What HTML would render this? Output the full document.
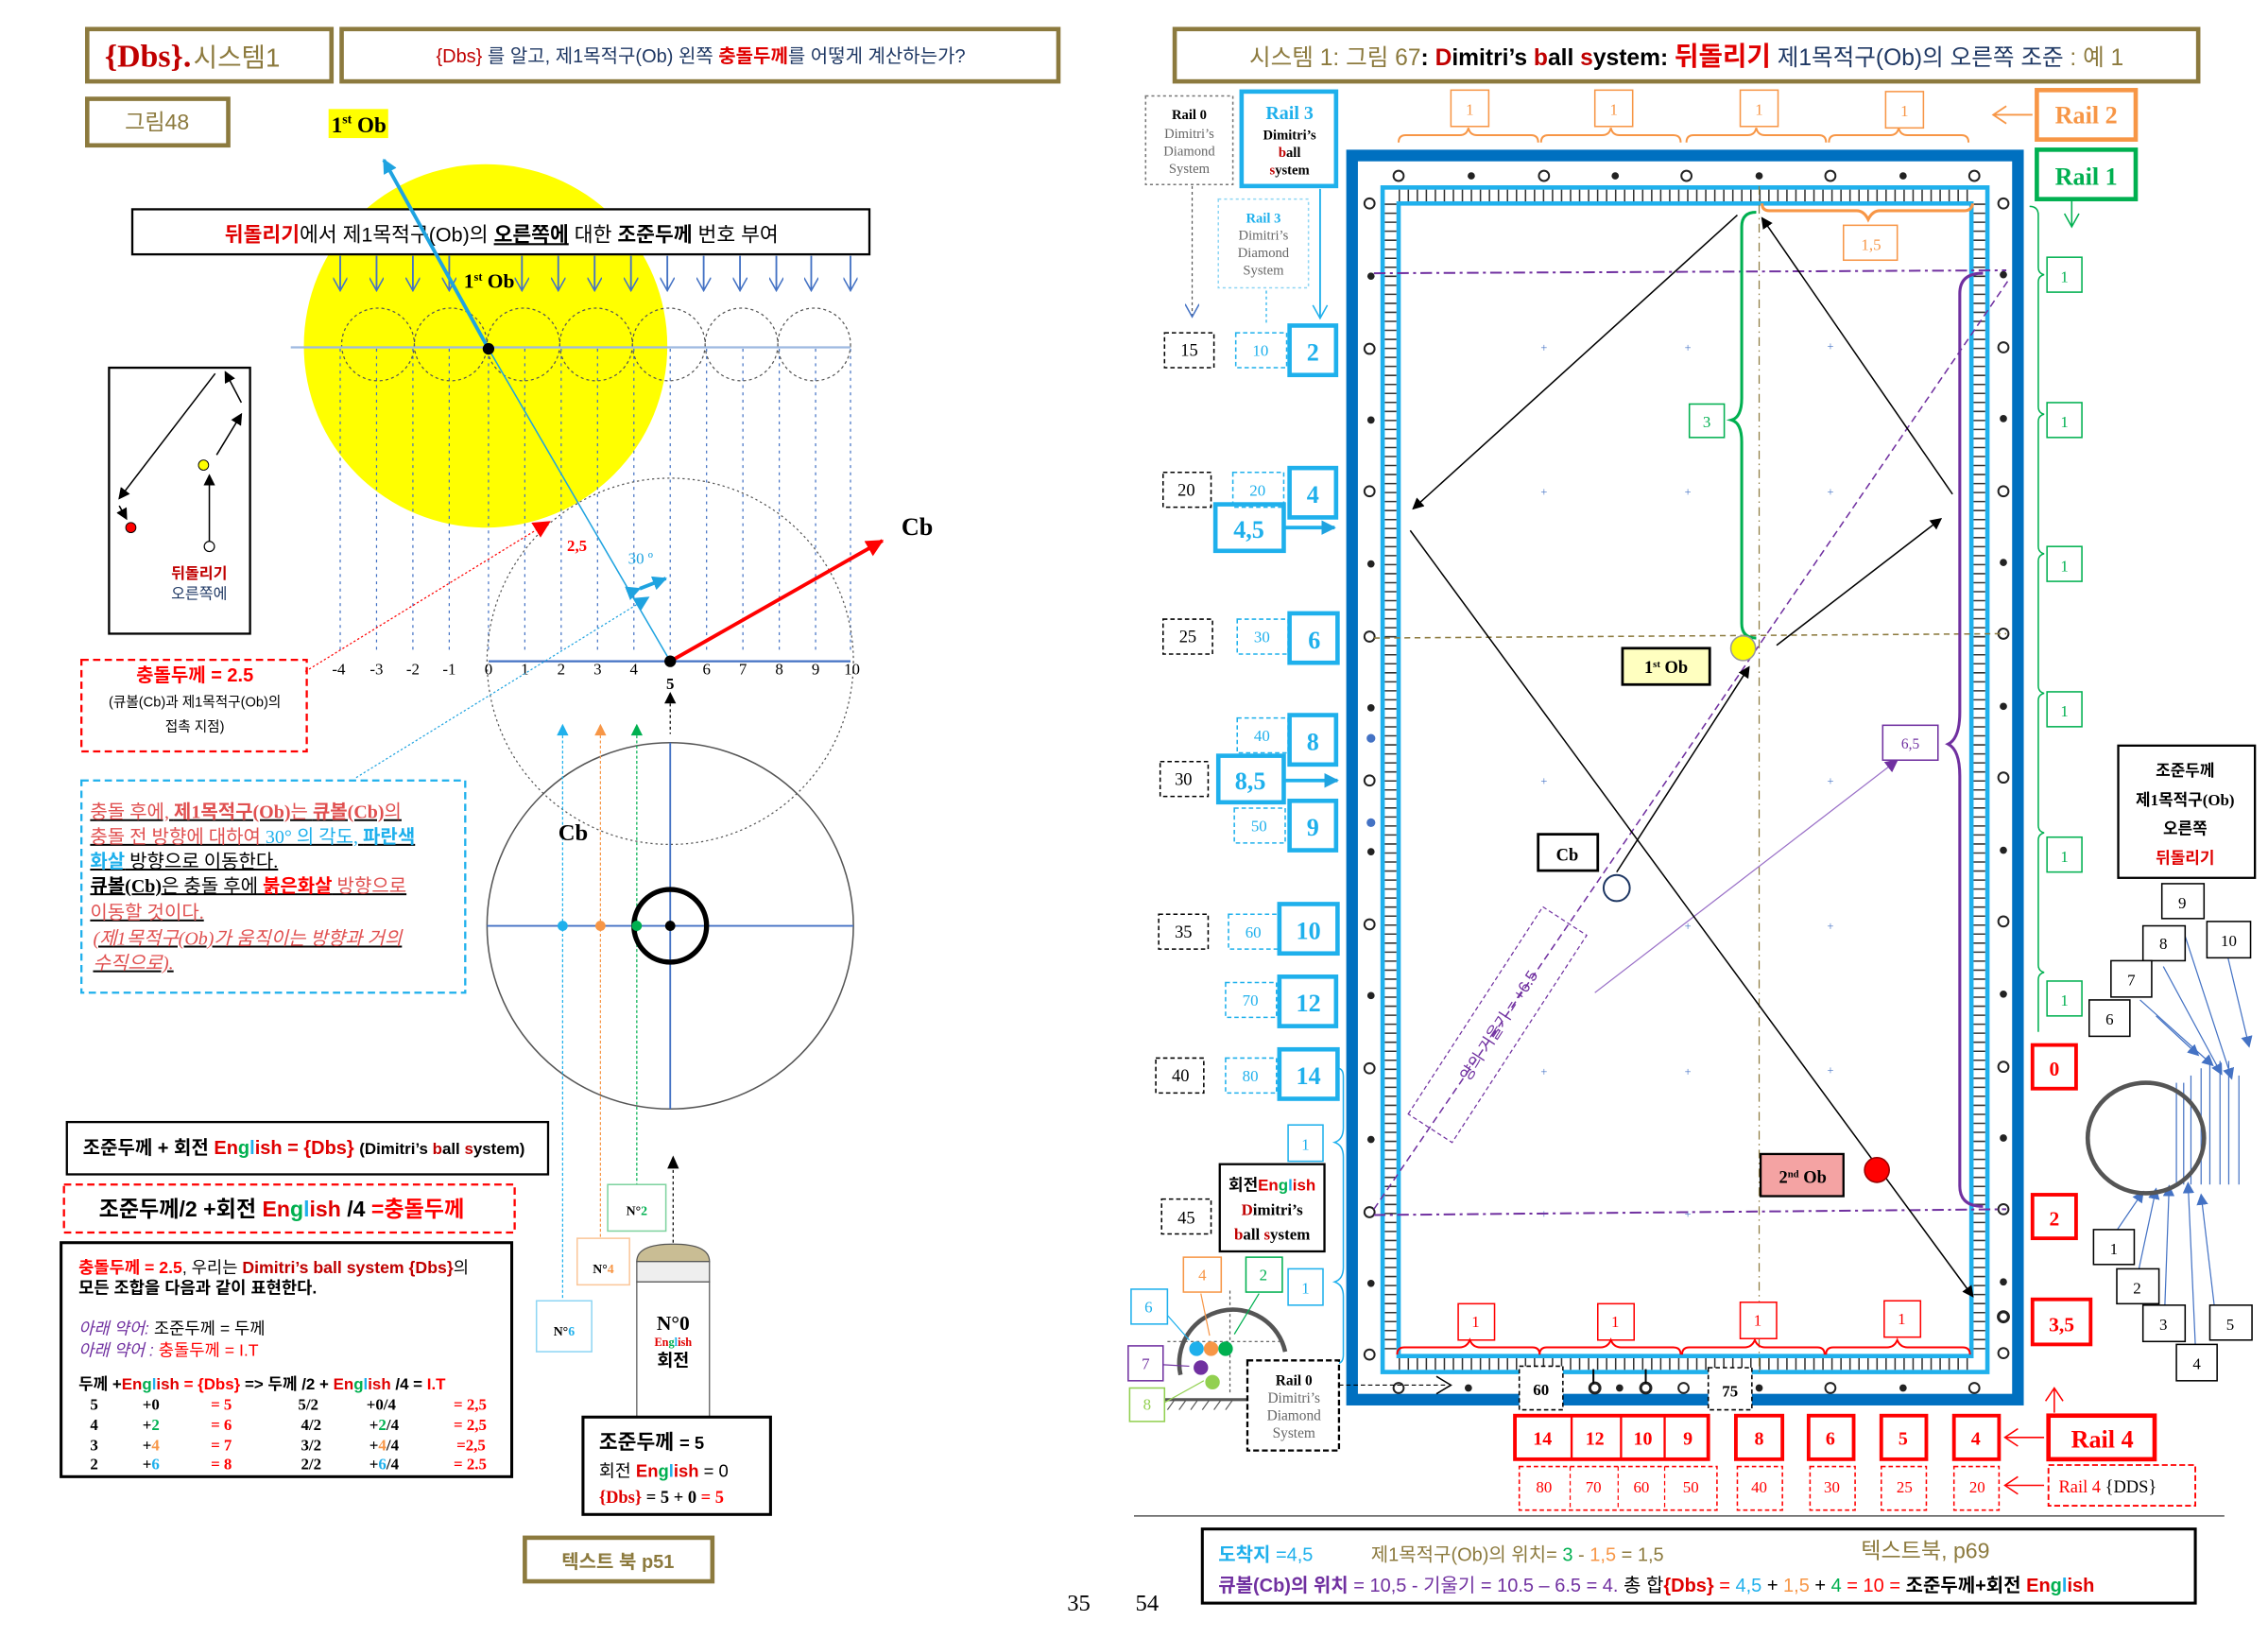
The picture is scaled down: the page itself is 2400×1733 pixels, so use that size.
<!DOCTYPE html>
<html><head><meta charset="utf-8"><style>
html,body{margin:0;padding:0;background:#fff}
svg{display:block}
text{font-family:"Liberation Serif","Noto Sans CJK KR",serif}
.k{font-family:"Liberation Sans","Noto Sans CJK KR",sans-serif}
</style></head><body>
<svg width="2400" height="1733" viewBox="0 0 1560 1127" preserveAspectRatio="none" xmlns="http://www.w3.org/2000/svg">
<defs>
<marker id="ab" markerWidth="8" markerHeight="8" refX="7" refY="4" orient="auto" markerUnits="userSpaceOnUse"><path d="M0,0 L8,4 L0,8z" fill="#000"/></marker>
<marker id="ac" markerWidth="10" markerHeight="10" refX="9" refY="5" orient="auto" markerUnits="userSpaceOnUse"><path d="M0,0 L10,5 L0,10z" fill="#1fa3e0"/></marker>
<marker id="ar" markerWidth="12" markerHeight="12" refX="11" refY="6" orient="auto" markerUnits="userSpaceOnUse"><path d="M0,0 L12,6 L0,12z" fill="#f00"/></marker>
<marker id="ap" markerWidth="9" markerHeight="9" refX="8" refY="4.5" orient="auto" markerUnits="userSpaceOnUse"><path d="M0,0 L9,4.5 L0,9z" fill="#7030a0"/></marker>
<marker id="abl" markerWidth="8" markerHeight="8" refX="7" refY="4" orient="auto" markerUnits="userSpaceOnUse"><path d="M0,0 L8,4 L0,8z" fill="#4472c4"/></marker>
<marker id="av" markerWidth="10" markerHeight="10" refX="9" refY="5" orient="auto" markerUnits="userSpaceOnUse"><path d="M0,0 L9,5 L0,10" fill="none" stroke="#4472c4"/></marker>
</defs>

<!-- ================= LEFT PAGE ================= -->
<rect x="60" y="20" width="168" height="36" fill="none" stroke="#8c7a3e" stroke-width="3"/>
<text x="72" y="46" font-size="22" fill="#c00000" font-weight="bold">{Dbs}.</text>
<text x="133" y="46" font-size="18" fill="#8c7a3e" class="k">시스템1</text>
<rect x="235" y="20" width="493" height="36" fill="none" stroke="#8c7a3e" stroke-width="3"/>
<text x="482" y="43" font-size="13" text-anchor="middle" class="k" fill="#1f3864"><tspan fill="#c00000">{Dbs}</tspan> 를 알고, 제1목적구(Ob) 왼쪽 <tspan fill="#e00000" font-weight="bold">충돌두께</tspan>를 어떻게 계산하는가?</text>
<rect x="60" y="68" width="97" height="32" fill="none" stroke="#8c7a3e" stroke-width="3"/>
<text x="108" y="89" font-size="15" text-anchor="middle" fill="#8c7a3e" class="k">그림48</text>

<circle cx="334" cy="238" r="125" fill="#ffff00"/>
<rect x="226" y="75" width="41" height="20" fill="#ffff00"/>
<text x="228" y="91" font-size="15" font-weight="bold">1<tspan font-size="9" dy="-6">st</tspan><tspan dy="6"> Ob</tspan></text>

<!-- vertical dotted lines -->
<g stroke="#4472c4" stroke-width="0.8" stroke-dasharray="2,3">
<line x1="234" y1="240" x2="234" y2="450"/><line x1="259" y1="240" x2="259" y2="450"/><line x1="284" y1="240" x2="284" y2="450"/><line x1="309" y1="240" x2="309" y2="450"/><line x1="336" y1="240" x2="336" y2="450"/><line x1="361" y1="240" x2="361" y2="450"/><line x1="386" y1="240" x2="386" y2="450"/><line x1="411" y1="240" x2="411" y2="450"/><line x1="436" y1="240" x2="436" y2="450"/><line x1="461" y1="240" x2="461" y2="450"/><line x1="486" y1="240" x2="486" y2="450"/><line x1="511" y1="240" x2="511" y2="450"/><line x1="536" y1="240" x2="536" y2="450"/><line x1="561" y1="240" x2="561" y2="450"/><line x1="585" y1="240" x2="585" y2="450"/>
</g>
<!-- dotted circles row -->
<g fill="none" stroke="#555" stroke-width="0.8" stroke-dasharray="2,2">
<circle cx="260" cy="237" r="25"/><circle cx="310" cy="237" r="25"/><circle cx="360" cy="237" r="25"/><circle cx="410" cy="237" r="25"/><circle cx="460" cy="237" r="25"/><circle cx="510" cy="237" r="25"/><circle cx="560" cy="237" r="25"/>
</g>
<line x1="200" y1="239" x2="585" y2="239" stroke="#9db9e0" stroke-width="1.5"/>
<!-- banner -->
<rect x="91" y="144" width="507" height="31" fill="#fff" stroke="#000" stroke-width="1.5"/>
<text x="345" y="166" font-size="14" text-anchor="middle" class="k"><tspan fill="#e00000" font-weight="bold">뒤돌리기</tspan>에서 제1목적구(Ob)의 <tspan font-weight="bold" text-decoration="underline">오른쪽에</tspan> 대한 <tspan font-weight="bold">조준두께</tspan> 번호 부여</text>
<!-- down arrows -->
<g stroke="#4472c4" stroke-width="1.2" marker-end="url(#av)">
<line x1="234" y1="176" x2="234" y2="200"/><line x1="259" y1="176" x2="259" y2="200"/><line x1="284" y1="176" x2="284" y2="200"/><line x1="309" y1="176" x2="309" y2="200"/><line x1="359" y1="176" x2="359" y2="200"/><line x1="384" y1="176" x2="384" y2="200"/><line x1="409" y1="176" x2="409" y2="200"/><line x1="434" y1="176" x2="434" y2="200"/><line x1="459" y1="176" x2="459" y2="200"/><line x1="484" y1="176" x2="484" y2="200"/><line x1="509" y1="176" x2="509" y2="200"/><line x1="534" y1="176" x2="534" y2="200"/><line x1="558" y1="176" x2="558" y2="200"/><line x1="585" y1="176" x2="585" y2="200"/>
</g>
<text x="319" y="198" font-size="14" font-weight="bold">1<tspan font-size="8" dy="-5">st</tspan><tspan dy="5"> Ob</tspan></text>
<line x1="336" y1="240" x2="264" y2="110" stroke="#1fa3e0" stroke-width="2.5" marker-end="url(#ac)"/>
<line x1="336" y1="240" x2="461" y2="455" stroke="#1fa3e0" stroke-width="1"/>
<circle cx="336" cy="240" r="4" fill="#000"/>

<!-- dotted big circle -->
<circle cx="461" cy="455" r="126" fill="none" stroke="#555" stroke-width="0.8" stroke-dasharray="1.5,2"/>
<line x1="336" y1="455" x2="585" y2="455" stroke="#4472c4" stroke-width="1.5"/>
<g font-size="11" text-anchor="middle">
<text x="233" y="464">-4</text><text x="259" y="464">-3</text><text x="284" y="464">-2</text><text x="309" y="464">-1</text><text x="336" y="464">0</text><text x="361" y="464">1</text><text x="386" y="464">2</text><text x="411" y="464">3</text><text x="436" y="464">4</text><text x="486" y="464">6</text><text x="511" y="464">7</text><text x="536" y="464">8</text><text x="561" y="464">9</text><text x="586" y="464">10</text>
<text x="461" y="474" font-weight="bold">5</text></g>
<line x1="461" y1="455" x2="607" y2="372" stroke="#f00" stroke-width="2.5" marker-end="url(#ar)"/>
<circle cx="461" cy="455" r="4" fill="#000"/>
<text x="620" y="368" font-size="17" font-weight="bold">Cb</text>
<text x="390" y="379" font-size="11" fill="#f00" font-weight="bold">2,5</text>
<text x="432" y="388" font-size="11" fill="#1fa3e0">30 º</text>
<line x1="440" y1="405" x2="458" y2="398" stroke="#1fa3e0" stroke-width="2.5" marker-end="url(#ac)" marker-start="url(#ac)"/>
<line x1="210" y1="462" x2="378" y2="359" stroke="#f00" stroke-width="0.8" stroke-dasharray="1.5,1.5" marker-end="url(#ar)"/>
<line x1="245" y1="535" x2="446" y2="411" stroke="#1fa3e0" stroke-width="0.8" stroke-dasharray="1.5,1.5" marker-end="url(#ac)"/>

<!-- inset -->
<rect x="75" y="253" width="97" height="183" fill="none" stroke="#000" stroke-width="1.5"/>
<line x1="148" y1="257" x2="82" y2="343" stroke="#000" stroke-width="1" marker-end="url(#ab)"/>
<line x1="82" y1="348" x2="87" y2="357" stroke="#000" stroke-width="1" marker-end="url(#ab)"/>
<line x1="166" y1="277" x2="155" y2="256" stroke="#000" stroke-width="1" marker-end="url(#ab)"/>
<line x1="149" y1="313" x2="166" y2="285" stroke="#000" stroke-width="1" marker-end="url(#ab)"/>
<line x1="144" y1="374" x2="144" y2="327" stroke="#000" stroke-width="1" marker-end="url(#ab)"/>
<circle cx="90" cy="363" r="3.5" fill="#f00" stroke="#000" stroke-width="0.6"/>
<circle cx="140" cy="320" r="3.5" fill="#ff0" stroke="#000" stroke-width="0.6"/>
<circle cx="144" cy="376" r="3.5" fill="#fff" stroke="#000" stroke-width="0.8"/>
<text x="137" y="398" font-size="10.5" text-anchor="middle" fill="#c00000" class="k" font-weight="bold">뒤돌리기</text>
<text x="137" y="412" font-size="10.5" text-anchor="middle" fill="#1f3864" class="k">오른쪽에</text>

<!-- red dashed box -->
<rect x="56" y="454" width="155" height="63" fill="none" stroke="#f00" stroke-width="1.5" stroke-dasharray="5,3"/>
<text x="134" y="469" font-size="13" text-anchor="middle" fill="#f00" font-weight="bold" class="k">충돌두께 = 2.5</text>
<text x="134" y="486" font-size="9.5" text-anchor="middle" class="k">(큐볼(Cb)과 제1목적구(Ob)의</text>
<text x="134" y="503" font-size="9.5" text-anchor="middle" class="k">접촉 지점)</text>

<!-- cyan dashed box -->
<rect x="56" y="537" width="264" height="146" fill="none" stroke="#1fb0ec" stroke-width="1.5" stroke-dasharray="5,3"/>
<g font-size="13" class="k" text-decoration="underline">
<text x="62" y="563" fill="#e05050">충돌 후에, <tspan font-weight="bold">제1목적구(Ob)</tspan>는 <tspan font-weight="bold">큐볼(Cb)</tspan>의</text>
<text x="62" y="580" fill="#e05050">충돌 전 방향에 대하여 <tspan fill="#1fb0ec">30° 의 각도, <tspan font-weight="bold">파란색</tspan></tspan></text>
<text x="62" y="597" fill="#000"><tspan fill="#1fb0ec" font-weight="bold">화살</tspan> 방향으로 이동한다.</text>
<text x="62" y="614" fill="#e05050"><tspan fill="#000" font-weight="bold">큐볼(Cb)</tspan><tspan fill="#000">은 충돌 후에</tspan> <tspan fill="#f00" font-weight="bold">붉은화살</tspan> 방향으로</text>
<text x="62" y="632" fill="#e05050">이동할 것이다.</text>
<text x="64" y="650" fill="#e05050" font-style="italic">(제1목적구(Ob)가 움직이는 방향과  거의</text>
<text x="64" y="667" fill="#e05050" font-style="italic">수직으로).</text>
</g>

<!-- lower circle -->
<path d="M387,498 l-4,8 h8z" fill="#1fb0ec"/><path d="M413,498 l-4,8 h8z" fill="#f79646"/><path d="M438,498 l-4,8 h8z" fill="#00b050"/>
<path d="M461,476 l-4,8 h8z" fill="#000"/><line x1="461" y1="484" x2="461" y2="505" stroke="#000" stroke-width="0.8" stroke-dasharray="2,2"/>
<circle cx="461" cy="637" r="126" fill="none" stroke="#555" stroke-width="1"/>
<line x1="335" y1="637" x2="587" y2="637" stroke="#4472c4" stroke-width="1.2"/>
<line x1="461" y1="511" x2="461" y2="763" stroke="#4472c4" stroke-width="1.2"/>
<line x1="387" y1="506" x2="387" y2="928" stroke="#1fb0ec" stroke-width="0.8" stroke-dasharray="2,1.5"/>
<line x1="413" y1="506" x2="413" y2="855" stroke="#f79646" stroke-width="0.8" stroke-dasharray="2,1.5"/>
<line x1="438" y1="506" x2="438" y2="815" stroke="#00b050" stroke-width="0.8" stroke-dasharray="2,1.5"/>
<circle cx="461" cy="637" r="25" fill="none" stroke="#000" stroke-width="3.5"/>
<circle cx="461" cy="637" r="3.5" fill="#000"/>
<circle cx="387" cy="637" r="3.5" fill="#1fb0ec"/><circle cx="413" cy="637" r="3.5" fill="#f79646"/><circle cx="438" cy="637" r="3.5" fill="#00b050"/>
<text x="384" y="578" font-size="16" font-weight="bold">Cb</text>

<!-- formula boxes -->
<rect x="46" y="772" width="331" height="36" fill="none" stroke="#000" stroke-width="1.5"/>
<text x="57" y="794" font-size="13" class="k" font-weight="bold">조준두께 + 회전 <tspan fill="#e00000">En</tspan><tspan fill="#00b050">g</tspan><tspan fill="#1fb0ec">l</tspan><tspan fill="#e00000">ish</tspan> <tspan fill="#e00000">= {Dbs}</tspan> <tspan font-size="11">(Dimitri’s <tspan fill="#c00000">b</tspan>all <tspan fill="#c00000">s</tspan>ystem)</tspan></text>
<rect x="44" y="815" width="310" height="33" fill="none" stroke="#f00" stroke-width="1.5" stroke-dasharray="5,3"/>
<text x="68" y="837" font-size="15" class="k" font-weight="bold">조준두께/2 +회전 <tspan fill="#e00000">En</tspan><tspan fill="#00b050">g</tspan><tspan fill="#1fb0ec">l</tspan><tspan fill="#e00000">ish</tspan> /4 <tspan fill="#f00">=충돌두께</tspan></text>
<rect x="42" y="855" width="310" height="161" fill="none" stroke="#000" stroke-width="2"/>
<text x="54" y="876" font-size="11.5" class="k"><tspan fill="#f00" font-weight="bold">충돌두께 = 2.5</tspan>, 우리는 <tspan fill="#c00000" font-weight="bold">Dimitri’s ball system {Dbs}</tspan>의</text>
<text x="54" y="890" font-size="11.5" class="k" font-weight="bold">모든 조합을 다음과 같이 표현한다.</text>
<text x="54" y="918" font-size="11.5" class="k"><tspan fill="#7030a0" font-style="italic">아래 약어:</tspan> 조준두께 = 두께</text>
<text x="54" y="933" font-size="11.5" class="k"><tspan fill="#7030a0" font-style="italic">아래 약어 :</tspan> <tspan fill="#f00">충돌두께 = I.T</tspan></text>
<g font-size="11" font-weight="bold">
<text x="54" y="956" class="k">두께  +<tspan fill="#e00000">En</tspan><tspan fill="#00b050">g</tspan><tspan fill="#1fb0ec">l</tspan><tspan fill="#e00000">ish</tspan>  <tspan fill="#f00">= {Dbs}</tspan>  =&gt;  두께 /2 + <tspan fill="#e00000">En</tspan><tspan fill="#00b050">g</tspan><tspan fill="#1fb0ec">l</tspan><tspan fill="#e00000">ish</tspan> /4 = <tspan fill="#f00">I.T</tspan></text>
<text x="62" y="970">5</text><text x="98" y="970">+0</text><text x="145" y="970" fill="#f00">=  5</text><text x="205" y="970">5/2</text><text x="252" y="970">+0/4</text><text x="312" y="970" fill="#f00">= 2,5</text>
<text x="62" y="984">4</text><text x="98" y="984">+<tspan fill="#00b050">2</tspan></text><text x="145" y="984" fill="#f00">=  6</text><text x="207" y="984">4/2</text><text x="254" y="984">+<tspan fill="#00b050">2</tspan>/4</text><text x="312" y="984" fill="#f00">= 2,5</text>
<text x="62" y="998">3</text><text x="98" y="998">+<tspan fill="#f79646">4</tspan></text><text x="145" y="998" fill="#f00">=  7</text><text x="207" y="998">3/2</text><text x="254" y="998">+<tspan fill="#f79646">4</tspan>/4</text><text x="314" y="998" fill="#f00">=2,5</text>
<text x="62" y="1011">2</text><text x="98" y="1011">+<tspan fill="#1fb0ec">6</tspan></text><text x="145" y="1011" fill="#f00">=  8</text><text x="207" y="1011">2/2</text><text x="254" y="1011">+<tspan fill="#1fb0ec">6</tspan>/4</text><text x="312" y="1011" fill="#f00">= 2.5</text>
</g>

<!-- N boxes and cue -->
<rect x="418" y="815" width="40" height="32" fill="#fff" stroke="#7fd39f" stroke-width="1"/>
<text x="438" y="836" font-size="9" text-anchor="middle" font-weight="bold">N°<tspan fill="#00b050">2</tspan></text>
<rect x="397" y="852" width="36" height="32" fill="#fff" stroke="#fbc79a" stroke-width="1"/>
<text x="415" y="876" font-size="9" text-anchor="middle" font-weight="bold">N°<tspan fill="#f79646">4</tspan></text>
<rect x="369" y="895" width="38" height="35" fill="#fff" stroke="#8fd6f4" stroke-width="1"/>
<text x="388" y="919" font-size="9" text-anchor="middle" font-weight="bold">N°<tspan fill="#1fb0ec">6</tspan></text>
<line x1="463" y1="805" x2="463" y2="855" stroke="#000" stroke-width="0.8" stroke-dasharray="2,2"/>
<path d="M463,795 l-4,9 h8z" fill="#000"/>
<path d="M438,868 Q438,856 463,856 Q488,856 488,868z" fill="#c9bd94" stroke="#555" stroke-width="0.8"/>
<rect x="438" y="868" width="50" height="14" fill="#eee" stroke="#555" stroke-width="0.8"/>
<rect x="438" y="882" width="50" height="130" fill="#fff" stroke="#555" stroke-width="0.8"/>
<text x="463" y="915" font-size="14" text-anchor="middle" font-weight="bold">N°0</text>
<text x="463" y="926" font-size="8" text-anchor="middle" font-weight="bold"><tspan fill="#e00000">En</tspan><tspan fill="#00b050">g</tspan><tspan fill="#1fb0ec">l</tspan><tspan fill="#e00000">ish</tspan></text>
<text x="463" y="940" font-size="12" text-anchor="middle" class="k" font-weight="bold">회전</text>
<rect x="401" y="975" width="129" height="67" fill="#fff" stroke="#000" stroke-width="2"/>
<text x="412" y="997" font-size="14" class="k" font-weight="bold">조준두께  <tspan font-size="12">= 5</tspan></text>
<text x="412" y="1016" font-size="12" class="k">회전 <tspan fill="#e00000" font-weight="bold">En</tspan><tspan fill="#00b050" font-weight="bold">g</tspan><tspan fill="#1fb0ec" font-weight="bold">l</tspan><tspan fill="#e00000" font-weight="bold">ish</tspan> = 0</text>
<text x="412" y="1034" font-size="12" font-weight="bold"><tspan fill="#e00000">{Dbs}</tspan> = 5 + 0 <tspan fill="#f00">= 5</tspan></text>
<rect x="361" y="1058" width="129" height="30" fill="none" stroke="#8c7a3e" stroke-width="3"/>
<text x="425" y="1079" font-size="13" text-anchor="middle" fill="#8c7a3e" class="k" font-weight="bold">텍스트 북 p51</text>
<text x="734" y="1108" font-size="16">35</text>
<text x="781" y="1108" font-size="16">54</text>

<!-- ================= RIGHT PAGE ================= -->
<rect x="808" y="20" width="704" height="36" fill="none" stroke="#8c7a3e" stroke-width="3"/>
<text x="1160" y="45" font-size="16" text-anchor="middle" class="k" fill="#8c7a3e">시스템 1: 그림 67<tspan fill="#000" font-weight="bold">: </tspan><tspan fill="#c00000" font-weight="bold">D</tspan><tspan fill="#000" font-weight="bold">imitri’s </tspan><tspan fill="#c00000" font-weight="bold">b</tspan><tspan fill="#000" font-weight="bold">all </tspan><tspan fill="#c00000" font-weight="bold">s</tspan><tspan fill="#000" font-weight="bold">ystem: </tspan><tspan fill="#e00000" font-weight="bold" font-size="18">뒤돌리기</tspan> <tspan fill="#1f3864"> 제1목적구(Ob)의 오른쪽 조준</tspan> : 예 1</text>

<rect x="788" y="66" width="60" height="61" fill="none" stroke="#777" stroke-width="1" stroke-dasharray="2,2"/>
<g font-size="9.5" text-anchor="middle"><text x="818" y="82" font-weight="bold">Rail 0</text><text x="818" y="95" fill="#666">Dimitri’s</text><text x="818" y="107" fill="#666">Diamond</text><text x="818" y="119" fill="#666">System</text></g>
<rect x="854" y="63" width="65" height="65" fill="none" stroke="#1fb0ec" stroke-width="3"/>
<g text-anchor="middle"><text x="887" y="82" font-size="13" fill="#1fb0ec" font-weight="bold">Rail 3</text><text x="887" y="96" font-size="9.5" font-weight="bold">Dimitri’s</text><text x="887" y="108" font-size="9.5" font-weight="bold" fill="#c00000">b<tspan fill="#000">all</tspan></text><text x="887" y="120" font-size="9.5" font-weight="bold" fill="#c00000">s<tspan fill="#000">ystem</tspan></text></g>
<rect x="838" y="137" width="62" height="61" fill="none" stroke="#8fd6f4" stroke-width="1" stroke-dasharray="2,2"/>
<g font-size="9.5" text-anchor="middle"><text x="869" y="153" fill="#1fb0ec" font-weight="bold">Rail 3</text><text x="869" y="165" fill="#666">Dimitri’s</text><text x="869" y="177" fill="#666">Diamond</text><text x="869" y="189" fill="#666">System</text></g>
<line x1="820" y1="128" x2="820" y2="218" stroke="#555" stroke-width="0.8" stroke-dasharray="2,2" marker-end="url(#av)"/>
<line x1="871" y1="200" x2="871" y2="222" stroke="#1fb0ec" stroke-width="0.8" stroke-dasharray="2,2"/>
<line x1="908" y1="130" x2="908" y2="218" stroke="#1fb0ec" stroke-width="1.2"/>
<path d="M903,210 L908,219 L913,210" fill="none" stroke="#1fb0ec"/>

<!-- left number columns -->
<g font-size="12" text-anchor="middle">
<g fill="none" stroke="#000" stroke-width="1" stroke-dasharray="3,2">
<rect x="801" y="229" width="34" height="24"/><rect x="800" y="325" width="33" height="24"/><rect x="800" y="426" width="34" height="24"/><rect x="798" y="524" width="33" height="24"/><rect x="797" y="629" width="34" height="24"/><rect x="795" y="728" width="33" height="24"/><rect x="799" y="825" width="34" height="24"/><rect x="1022" y="855" width="33" height="23"/>
</g>
<text x="818" y="245">15</text><text x="816" y="341">20</text><text x="817" y="442">25</text><text x="814" y="540">30</text><text x="814" y="645">35</text><text x="812" y="744">40</text><text x="816" y="842">45</text><text x="1039" y="871">40</text>
<g fill="none" stroke="#1fb0ec" stroke-width="1" stroke-dasharray="3,2">
<rect x="850" y="229" width="35" height="24"/><rect x="848" y="325" width="35" height="24"/><rect x="851" y="426" width="35" height="24"/><rect x="851" y="494" width="35" height="24"/><rect x="849" y="556" width="35" height="24"/><rect x="845" y="629" width="35" height="24"/><rect x="843" y="676" width="35" height="24"/><rect x="843" y="728" width="35" height="24"/>
</g>
<g fill="#1fb0ec" font-size="11"><text x="867" y="245">10</text><text x="865" y="341">20</text><text x="868" y="442">30</text><text x="868" y="510">40</text><text x="866" y="572">50</text><text x="862" y="645">60</text><text x="860" y="692">70</text><text x="860" y="744">80</text></g>
<g fill="none" stroke="#1fb0ec" stroke-width="3">
<rect x="887" y="224" width="32" height="34"/><rect x="887" y="322" width="32" height="34"/><rect x="887" y="422" width="33" height="34"/><rect x="887" y="492" width="32" height="34"/><rect x="887" y="551" width="32" height="34"/><rect x="880" y="622" width="40" height="34"/><rect x="880" y="672" width="39" height="34"/><rect x="880" y="722" width="40" height="34"/>
<rect x="836" y="347" width="47" height="32"/><rect x="838" y="520" width="45" height="32"/>
</g>
<g fill="#1fb0ec" font-size="17" font-weight="bold"><text x="903" y="248">2</text><text x="903" y="346">4</text><text x="904" y="446">6</text><text x="903" y="516">8</text><text x="903" y="575">9</text><text x="900" y="646">10</text><text x="900" y="696">12</text><text x="900" y="746">14</text><text x="859" y="370">4,5</text><text x="860" y="543">8,5</text></g>
</g>
<line x1="884" y1="363" x2="918" y2="363" stroke="#1fb0ec" stroke-width="2.5" marker-end="url(#ac)"/>
<line x1="884" y1="537" x2="920" y2="537" stroke="#1fb0ec" stroke-width="2.5" marker-end="url(#ac)"/>

<!-- top orange -->
<g fill="#fff" stroke="#f79646" stroke-width="1"><rect x="998" y="62" width="26" height="25"/><rect x="1097" y="62" width="26" height="25"/><rect x="1197" y="62" width="26" height="25"/><rect x="1297" y="63" width="26" height="25"/></g>
<g fill="#f79646" font-size="11" text-anchor="middle"><text x="1011" y="79">1</text><text x="1110" y="79">1</text><text x="1210" y="79">1</text><text x="1310" y="80">1</text></g>
<g fill="none" stroke="#f79646" stroke-width="1.3">
<path d="M962,98 q0,-5 5,-5 h37 q5,0 6,-5 q1,5 6,5 h37 q5,0 5,5"/>
<path d="M1060,98 q0,-5 5,-5 h37 q5,0 6,-5 q1,5 6,5 h37 q5,0 5,5"/>
<path d="M1160,98 q0,-5 5,-5 h37 q5,0 6,-5 q1,5 6,5 h37 q5,0 5,5"/>
<path d="M1258,98 q0,-5 5,-5 h37 q5,0 6,-5 q1,5 6,5 h37 q5,0 5,5"/>
</g>
<rect x="1401" y="62" width="68" height="34" fill="none" stroke="#f79646" stroke-width="3"/>
<text x="1435" y="85" font-size="17" text-anchor="middle" fill="#f79646" font-weight="bold">Rail 2</text>
<line x1="1398" y1="79" x2="1372" y2="79" stroke="#f79646" stroke-width="1.2"/><path d="M1380,73 L1371,79 L1380,85" fill="none" stroke="#f79646" stroke-width="1.2"/>
<rect x="1401" y="103" width="68" height="34" fill="none" stroke="#00b050" stroke-width="3"/>
<text x="1435" y="127" font-size="17" text-anchor="middle" fill="#00b050" font-weight="bold">Rail 1</text>
<line x1="1425" y1="138" x2="1425" y2="155" stroke="#00b050" stroke-width="1"/><path d="M1420,147 L1425,156 L1430,147" fill="none" stroke="#00b050"/>

<!-- TABLE -->
<rect x="930" y="107" width="458" height="856" fill="#fff" stroke="#0070c0" stroke-width="8"/>
<rect x="951" y="129" width="416" height="815" fill="none" stroke="#1fb0ec" stroke-width="3"/>
<rect x="962" y="140" width="394" height="793" fill="none" stroke="#1fb0ec" stroke-width="3"/>
<g stroke="#333" stroke-width="8" stroke-dasharray="1,5.2">
<line x1="962" y1="134.5" x2="1356" y2="134.5"/><line x1="962" y1="938.5" x2="1356" y2="938.5"/>
</g>
<g stroke="#333" stroke-width="8" stroke-dasharray="1,5.2">
<line x1="956.5" y1="140" x2="956.5" y2="933"/><line x1="1361.5" y1="140" x2="1361.5" y2="933"/>
</g>
<!-- diamonds top/bottom -->
<g fill="#fff" stroke="#222" stroke-width="1.3">
<circle cx="962" cy="121" r="3.5"/><circle cx="1062" cy="121" r="3.5"/><circle cx="1160" cy="121" r="3.5"/><circle cx="1259" cy="121" r="3.5"/><circle cx="1358" cy="121" r="3.5"/>
<circle cx="962" cy="955" r="3.5"/><circle cx="1158" cy="955" r="3.5"/><circle cx="1259" cy="955" r="3.5"/><circle cx="1358" cy="955" r="3.5"/>
<circle cx="1097" cy="955" r="3.5" stroke-width="2"/><circle cx="1132" cy="955" r="3.5" stroke-width="2"/>
</g>
<g fill="#222"><circle cx="1012" cy="121" r="2.5"/><circle cx="1111" cy="121" r="2.5"/><circle cx="1210" cy="121" r="2.5"/><circle cx="1309" cy="121" r="2.5"/><circle cx="1010" cy="955" r="2.5"/><circle cx="1114" cy="955" r="2.5"/><circle cx="1210" cy="955" r="2.5"/><circle cx="1309" cy="955" r="2.5"/></g>
<!-- diamonds sides -->
<g fill="#fff" stroke="#222" stroke-width="1.3">
<circle cx="942" cy="140" r="3.5"/><circle cx="942" cy="240" r="3.5"/><circle cx="942" cy="338" r="3.5"/><circle cx="942" cy="438" r="3.5"/><circle cx="942" cy="537" r="3.5"/><circle cx="942" cy="636" r="3.5"/><circle cx="942" cy="735" r="3.5"/><circle cx="942" cy="834" r="3.5"/><circle cx="942" cy="932" r="3.5"/>
<circle cx="1378" cy="140" r="3.5"/><circle cx="1378" cy="239" r="3.5"/><circle cx="1378" cy="338" r="3.5"/><circle cx="1378" cy="436" r="3.5"/><circle cx="1378" cy="535" r="3.5"/><circle cx="1378" cy="634" r="3.5"/><circle cx="1378" cy="734" r="3.5"/><circle cx="1378" cy="832" r="3.5"/><circle cx="1378" cy="931" r="3.5"/><circle cx="1378" cy="906" r="3.5" stroke-width="2"/>
</g>
<g fill="#222"><circle cx="943" cy="190" r="2.5"/><circle cx="943" cy="289" r="2.5"/><circle cx="943" cy="388" r="2.5"/><circle cx="943" cy="487" r="2.5"/><circle cx="943" cy="586" r="2.5"/><circle cx="943" cy="685" r="2.5"/><circle cx="943" cy="784" r="2.5"/><circle cx="943" cy="883" r="2.5"/>
<circle cx="1378" cy="189" r="2.5"/><circle cx="1378" cy="288" r="2.5"/><circle cx="1378" cy="387" r="2.5"/><circle cx="1378" cy="486" r="2.5"/><circle cx="1378" cy="585" r="2.5"/><circle cx="1378" cy="684" r="2.5"/><circle cx="1378" cy="783" r="2.5"/><circle cx="1378" cy="882" r="2.5"/></g>
<circle cx="943" cy="508" r="3" fill="#4472c4"/><circle cx="943" cy="566" r="3" fill="#4472c4"/>
<!-- small crosses -->
<g fill="#4472c4" font-size="8" text-anchor="middle"><text x="1062" y="242">+</text><text x="1161" y="242">+</text><text x="1259" y="241">+</text><text x="1062" y="341">+</text><text x="1161" y="341">+</text><text x="1259" y="341">+</text><text x="1062" y="540">+</text><text x="1259" y="540">+</text><text x="1161" y="640">+</text><text x="1259" y="640">+</text><text x="1062" y="740">+</text><text x="1161" y="740">+</text><text x="1259" y="739">+</text><text x="1161" y="838">+</text><text x="1062" y="838">+</text></g>

<!-- guide lines -->
<line x1="945" y1="188" x2="1380" y2="186" stroke="#7030a0" stroke-width="1.3" stroke-dasharray="8,3,2,3"/>
<line x1="945" y1="836" x2="1380" y2="832" stroke="#7030a0" stroke-width="1.3" stroke-dasharray="8,3,2,3"/>
<line x1="945" y1="439" x2="1380" y2="436" stroke="#8c7a3e" stroke-width="1" stroke-dasharray="4,3"/>
<line x1="1210" y1="128" x2="1210" y2="944" stroke="#8c7a3e" stroke-width="0.8" stroke-dasharray="6,3,1,3"/>
<line x1="945" y1="832" x2="1382" y2="192" stroke="#7030a0" stroke-width="1" stroke-dasharray="5,3"/>
<line x1="1097" y1="683" x2="1305" y2="523" stroke="#9b72c8" stroke-width="0.8" marker-end="url(#ap)"/>
<!-- green brace left -->
<path d="M1208,146 q-10,0 -10,10 v118 q0,13 -7,15 q7,2 7,15 v125 q0,10 10,10" fill="none" stroke="#00b050" stroke-width="2"/>
<rect x="1162" y="278" width="24" height="23" fill="#fff" stroke="#00b050" stroke-width="1"/>
<text x="1174" y="294" font-size="11" text-anchor="middle" fill="#00b050">3</text>
<!-- orange brace -->
<path d="M1212,140 q0,5 5,5 h60 q5,0 8,6 q3,-6 8,-6 h58 q5,0 6,-5" fill="none" stroke="#f79646" stroke-width="2"/>
<rect x="1268" y="155" width="37" height="24" fill="#fff" stroke="#f79646" stroke-width="1"/>
<text x="1287" y="172" font-size="11" text-anchor="middle" fill="#f79646">1,5</text>
<!-- purple brace -->
<path d="M1364,188 q-16,0 -16,14 v288 q0,18 -8,22 q8,4 8,22 v282 q0,14 16,14" fill="none" stroke="#7030a0" stroke-width="2"/>
<rect x="1295" y="499" width="38" height="24" fill="#fff" stroke="#7030a0" stroke-width="1"/>
<text x="1314" y="515" font-size="10" text-anchor="middle" fill="#7030a0">6,5</text>
<!-- black arrows -->
<g stroke="#000" stroke-width="1" fill="none">
<line x1="1195" y1="148" x2="972" y2="350" marker-end="url(#ab)"/>
<line x1="970" y1="365" x2="1357" y2="892" marker-end="url(#ab)"/>
<line x1="1343" y1="340" x2="1212" y2="150" marker-end="url(#ab)"/>
<line x1="1222" y1="444" x2="1335" y2="357" marker-end="url(#ab)"/>
<line x1="1112" y1="600" x2="1203" y2="459" marker-end="url(#ab)"/>
</g>
<circle cx="1199" cy="446" r="8.5" fill="#ffff00" stroke="#999" stroke-width="1"/>
<rect x="1116" y="446" width="60" height="25" fill="#ffffc0" stroke="#000" stroke-width="1.8"/>
<text x="1146" y="463" font-size="12" text-anchor="middle" font-weight="bold">1<tspan font-size="7" dy="-4">st</tspan><tspan dy="4">  Ob</tspan></text>
<rect x="1058" y="574" width="41" height="25" fill="#fff" stroke="#000" stroke-width="1.8"/>
<text x="1078" y="592" font-size="12" text-anchor="middle" font-weight="bold">Cb</text>
<circle cx="1112" cy="611" r="9" fill="#fff" stroke="#1f3864" stroke-width="1.3"/>
<circle cx="1291" cy="805" r="8.5" fill="#f00" stroke="#900" stroke-width="1"/>
<rect x="1211" y="794" width="57" height="29" fill="#f4a3a3" stroke="#000" stroke-width="1.5"/>
<text x="1240" y="814" font-size="12" text-anchor="middle" font-weight="bold">2<tspan font-size="7" dy="-4">nd</tspan><tspan dy="4">  Ob</tspan></text>
<!-- slope label rotated dashed rect -->
<g transform="translate(1030,705) rotate(-57)">
<rect x="-85" y="-18" width="170" height="36" fill="none" stroke="#7030a0" stroke-width="0.8" stroke-dasharray="3,2"/>
<text x="0" y="5" font-size="11" text-anchor="middle" fill="#7030a0" class="k">양의 기울기 = +6.5</text>
</g>

<!-- right green -->
<path d="M1396,142 q6,0 6,6 v36 q0,4 4,5 q-4,1 -4,5 v86 q0,4 4,5 q-4,1 -4,5 v86 q0,4 4,5 q-4,1 -4,5 v86 q0,4 4,5 q-4,1 -4,5 v86 q0,4 4,5 q-4,1 -4,5 v86 q0,4 4,5 q-4,1 -4,5 v36" fill="none" stroke="#00b050" stroke-width="1"/>
<g fill="#fff" stroke="#00b050" stroke-width="1"><rect x="1408" y="177" width="24" height="24"/><rect x="1408" y="277" width="24" height="24"/><rect x="1408" y="376" width="24" height="24"/><rect x="1408" y="476" width="24" height="24"/><rect x="1408" y="576" width="24" height="24"/><rect x="1408" y="675" width="24" height="24"/></g>
<g fill="#00b050" font-size="11" text-anchor="middle"><text x="1420" y="194">1</text><text x="1420" y="294">1</text><text x="1420" y="393">1</text><text x="1420" y="493">1</text><text x="1420" y="593">1</text><text x="1420" y="692">1</text></g>
<g fill="#fff" stroke="#f00" stroke-width="2.5"><rect x="1398" y="719" width="30" height="30"/><rect x="1398" y="822" width="30" height="30"/><rect x="1398" y="894" width="40" height="31"/></g>
<g fill="#f00" font-size="14" font-weight="bold" text-anchor="middle"><text x="1413" y="740">0</text><text x="1413" y="843">2</text><text x="1418" y="916">3,5</text></g>
<rect x="1457" y="513" width="94" height="91" fill="#fff" stroke="#000" stroke-width="1.5"/>
<g font-size="11" text-anchor="middle" class="k" font-weight="bold"><text x="1503" y="534">조준두께</text><text x="1503" y="554">제1목적구(Ob)</text><text x="1503" y="574">오른쪽</text><text x="1503" y="594" fill="#e00000">뒤돌리기</text></g>
<!-- english circle -->
<g stroke="#4472c4" stroke-width="0.8">
<line x1="1483" y1="699" x2="1512" y2="726" marker-end="url(#abl)"/><line x1="1472" y1="688" x2="1522" y2="733" marker-end="url(#abl)"/><line x1="1488" y1="665" x2="1528" y2="739" marker-end="url(#abl)"/><line x1="1501" y1="638" x2="1535" y2="742" marker-end="url(#abl)"/><line x1="1532" y1="657" x2="1547" y2="720" marker-end="url(#abl)"/>
<line x1="1455" y1="848" x2="1474" y2="820" marker-end="url(#abl)"/><line x1="1471" y1="874" x2="1483" y2="818" marker-end="url(#abl)"/><line x1="1489" y1="900" x2="1492" y2="816" marker-end="url(#abl)"/><line x1="1510" y1="925" x2="1505" y2="814" marker-end="url(#abl)"/><line x1="1523" y1="898" x2="1514" y2="822" marker-end="url(#abl)"/>
<line x1="1497" y1="745" x2="1497" y2="815"/><line x1="1502" y1="745" x2="1502" y2="815"/><line x1="1507" y1="740" x2="1507" y2="815"/><line x1="1514" y1="735" x2="1514" y2="815"/><line x1="1520" y1="730" x2="1520" y2="815"/><line x1="1527" y1="730" x2="1527" y2="815"/><line x1="1533" y1="730" x2="1533" y2="815"/><line x1="1540" y1="740" x2="1540" y2="815"/>
</g>
<ellipse cx="1476" cy="783" rx="40" ry="38" fill="none" stroke="#555" stroke-width="3"/>
<g fill="#fff" stroke="#000" stroke-width="1">
<rect x="1487" y="608" width="29" height="24"/><rect x="1474" y="637" width="29" height="24"/><rect x="1518" y="634" width="30" height="25"/><rect x="1452" y="661" width="28" height="25"/><rect x="1437" y="688" width="28" height="25"/>
<rect x="1440" y="846" width="28" height="24"/><rect x="1456" y="873" width="29" height="24"/><rect x="1474" y="898" width="29" height="25"/><rect x="1520" y="898" width="29" height="24"/><rect x="1497" y="925" width="28" height="25"/>
</g>
<g font-size="11" text-anchor="middle"><text x="1501" y="625">9</text><text x="1488" y="653">8</text><text x="1533" y="651">10</text><text x="1466" y="678">7</text><text x="1451" y="705">6</text><text x="1454" y="863">1</text><text x="1470" y="890">2</text><text x="1488" y="915">3</text><text x="1534" y="915">5</text><text x="1511" y="942">4</text></g>

<!-- bottom red -->
<g fill="#fff" stroke="#f00" stroke-width="1"><rect x="1003" y="897" width="25" height="25"/><rect x="1099" y="897" width="25" height="25"/><rect x="1197" y="896" width="25" height="25"/><rect x="1296" y="895" width="25" height="25"/></g>
<g fill="#f00" font-size="11" text-anchor="middle"><text x="1015" y="913">1</text><text x="1111" y="913">1</text><text x="1209" y="912">1</text><text x="1308" y="911">1</text></g>
<g fill="none" stroke="#f00" stroke-width="1.3">
<path d="M961,932 q0,-5 5,-5 h38 q5,0 7,-5 q2,5 7,5 h36 q5,0 5,5"/>
<path d="M1059,932 q0,-5 5,-5 h37 q5,0 7,-5 q2,5 7,5 h36 q5,0 5,5"/>
<path d="M1157,932 q0,-5 5,-5 h38 q5,0 7,-5 q2,5 7,5 h36 q5,0 5,5"/>
<path d="M1256,932 q0,-5 5,-5 h37 q5,0 7,-5 q2,5 7,5 h38 q5,0 5,5"/>
</g>
<g stroke="#000" stroke-width="1.3"><line x1="1096" y1="942" x2="1096" y2="952"/><line x1="1132" y1="942" x2="1132" y2="952"/></g>
<rect x="1045" y="940" width="30" height="30" fill="#fff" stroke="#000" stroke-width="1" stroke-dasharray="3,2"/>
<text x="1060" y="960" font-size="11" text-anchor="middle" font-weight="bold">60</text>
<rect x="1175" y="941" width="30" height="29" fill="#fff" stroke="#000" stroke-width="1" stroke-dasharray="3,2"/>
<text x="1190" y="961" font-size="11" text-anchor="middle" font-weight="bold">75</text>
<g fill="#fff" stroke="#f00" stroke-width="2.5"><rect x="1042" y="974" width="133" height="30"/><rect x="1194" y="974" width="32" height="30"/><rect x="1244" y="974" width="31" height="30"/><rect x="1294" y="974" width="31" height="30"/><rect x="1344" y="974" width="31" height="30"/></g>
<g stroke="#f00" stroke-width="1.5"><line x1="1081" y1="974" x2="1081" y2="1004"/><line x1="1115" y1="974" x2="1115" y2="1004"/><line x1="1145" y1="974" x2="1145" y2="1004"/></g>
<g fill="#f00" font-size="13" font-weight="bold" text-anchor="middle"><text x="1061" y="994">14</text><text x="1097" y="994">12</text><text x="1130" y="994">10</text><text x="1161" y="994">9</text><text x="1210" y="994">8</text><text x="1259" y="994">6</text><text x="1309" y="994">5</text><text x="1359" y="994">4</text></g>
<g fill="none" stroke="#f00" stroke-width="1" stroke-dasharray="3,2"><rect x="1045" y="1009" width="136" height="30"/><rect x="1195" y="1009" width="31" height="30"/><rect x="1245" y="1009" width="31" height="30"/><rect x="1294" y="1009" width="31" height="30"/><rect x="1344" y="1009" width="31" height="30"/></g>
<g stroke="#f00" stroke-width="0.8" stroke-dasharray="3,2"><line x1="1080" y1="1009" x2="1080" y2="1039"/><line x1="1113" y1="1009" x2="1113" y2="1039"/><line x1="1145" y1="1009" x2="1145" y2="1039"/></g>
<g fill="#f00" font-size="11" text-anchor="middle"><text x="1062" y="1027">80</text><text x="1096" y="1027">70</text><text x="1129" y="1027">60</text><text x="1163" y="1027">50</text><text x="1210" y="1027">40</text><text x="1260" y="1027">30</text><text x="1310" y="1027">25</text><text x="1360" y="1027">20</text></g>
<rect x="1409" y="974" width="73" height="30" fill="#fff" stroke="#f00" stroke-width="3"/>
<text x="1446" y="996" font-size="17" text-anchor="middle" fill="#f00" font-weight="bold">Rail 4</text>
<rect x="1409" y="1008" width="101" height="28" fill="none" stroke="#f00" stroke-width="1.2" stroke-dasharray="4,2"/>
<text x="1416" y="1027" font-size="12" fill="#f00">Rail 4  <tspan fill="#000">{DDS}</tspan></text>
<g stroke="#f00" stroke-width="1" fill="none"><line x1="1406" y1="989" x2="1380" y2="989"/><path d="M1388,983 L1379,989 L1388,995"/><line x1="1406" y1="1022" x2="1380" y2="1022"/><path d="M1388,1016 L1379,1022 L1388,1028"/><line x1="1413" y1="972" x2="1413" y2="956"/><path d="M1407,964 L1413,955 L1419,964"/></g>

<!-- left bottom of table -->
<path d="M920,735 q4,0 4,6 v35 q0,8 -6,10 q6,2 6,10 v76 q0,8 -6,10 q6,2 6,10 v40 q0,6 -4,6" fill="none" stroke="#1fb0ec" stroke-width="1"/>
<g fill="#fff" stroke="#1fb0ec" stroke-width="1"><rect x="886" y="774" width="24" height="25"/><rect x="886" y="873" width="24" height="25"/></g>
<g fill="#1fb0ec" font-size="11" text-anchor="middle"><text x="898" y="791">1</text><text x="898" y="890">1</text></g>
<rect x="839" y="801" width="72" height="60" fill="#fff" stroke="#000" stroke-width="1.5"/>
<g font-size="11" text-anchor="middle" font-weight="bold"><text x="875" y="819" class="k">회전<tspan fill="#e00000">En</tspan><tspan fill="#00b050">g</tspan><tspan fill="#1fb0ec">l</tspan><tspan fill="#e00000">ish</tspan></text><text x="875" y="836"><tspan fill="#c00000">D</tspan>imitri’s</text><text x="875" y="853"><tspan fill="#c00000">b</tspan>all <tspan fill="#c00000">s</tspan>ystem</text></g>
<!-- cue ball diagram -->
<path d="M812,946 A36,36 0 1 1 884,930" fill="none" stroke="#555" stroke-width="3"/>
<line x1="846" y1="888" x2="846" y2="960" stroke="#555" stroke-width="0.8" stroke-dasharray="2,2"/>
<line x1="803" y1="923" x2="880" y2="923" stroke="#555" stroke-width="0.8" stroke-dasharray="2,2"/>
<line x1="800" y1="963" x2="860" y2="963" stroke="#555" stroke-width="2"/>
<g stroke="#555" stroke-width="0.8"><line x1="803" y1="970" x2="808" y2="963"/><line x1="811" y1="970" x2="816" y2="963"/><line x1="819" y1="970" x2="824" y2="963"/><line x1="827" y1="970" x2="832" y2="963"/><line x1="835" y1="970" x2="840" y2="963"/><line x1="843" y1="970" x2="848" y2="963"/></g>
<circle cx="823" cy="928" r="5" fill="#1fb0ec"/><circle cx="833" cy="928" r="5" fill="#f79646"/><circle cx="843" cy="928" r="5" fill="#00b050"/><circle cx="826" cy="941" r="5" fill="#7030a0"/><circle cx="834" cy="951" r="5" fill="#92d050"/>
<g fill="#fff" stroke-width="1"><rect x="814" y="865" width="26" height="24" stroke="#f79646"/><rect x="857" y="865" width="25" height="24" stroke="#00b050"/><rect x="778" y="887" width="25" height="24" stroke="#1fb0ec"/><rect x="776" y="926" width="24" height="24" stroke="#7030a0"/><rect x="777" y="955" width="24" height="23" stroke="#92d050"/></g>
<g font-size="11" text-anchor="middle"><text x="827" y="881" fill="#f79646">4</text><text x="869" y="881" fill="#00b050">2</text><text x="790" y="903" fill="#1fb0ec">6</text><text x="788" y="942" fill="#7030a0">7</text><text x="789" y="970" fill="#92d050">8</text></g>
<g stroke-width="0.8"><line x1="826" y1="890" x2="832" y2="919" stroke="#f79646"/><line x1="866" y1="890" x2="849" y2="918" stroke="#00b050"/><line x1="803" y1="905" x2="818" y2="922" stroke="#1fb0ec"/><line x1="800" y1="939" x2="818" y2="940" stroke="#7030a0"/><line x1="801" y1="965" x2="828" y2="950" stroke="#92d050"/></g>
<rect x="858" y="936" width="63" height="62" fill="#fff" stroke="#000" stroke-width="1.5" stroke-dasharray="4,2"/>
<g font-size="10" text-anchor="middle"><text x="890" y="953" font-weight="bold">Rail 0</text><text x="890" y="965" fill="#666">Dimitri’s</text><text x="890" y="977" fill="#666">Diamond</text><text x="890" y="989" fill="#666">System</text></g>
<line x1="921" y1="953" x2="996" y2="953" stroke="#000" stroke-width="0.8" stroke-dasharray="3,2"/><path d="M988,947 L998,953 L988,959" fill="none" stroke="#000"/>

<!-- bottom -->
<line x1="780" y1="1043" x2="1530" y2="1043" stroke="#555" stroke-width="1"/>
<rect x="827" y="1052" width="683" height="51" fill="#fff" stroke="#000" stroke-width="2"/>
<text x="838" y="1074" font-size="13" class="k" fill="#1fb0ec" font-weight="bold">도착지  <tspan font-weight="normal">=4,5</tspan></text>
<text x="943" y="1074" font-size="13" class="k" fill="#8c7a3e">제1목적구(Ob)의 위치= <tspan fill="#00b050">3</tspan> - <tspan fill="#f79646">1,5</tspan> = 1,5</text>
<text x="1280" y="1072" font-size="15" class="k" fill="#8c7a3e">텍스트북, p69</text>
<text x="838" y="1095" font-size="13" class="k" fill="#7030a0"><tspan font-weight="bold">큐볼(Cb)의 위치</tspan> = 10,5 - 기울기 = 10.5 – 6.5 = 4.  <tspan fill="#000">총 합</tspan><tspan fill="#e00000" font-weight="bold">{Dbs}</tspan><tspan fill="#f00"> = </tspan><tspan fill="#1fb0ec">4,5</tspan><tspan fill="#000"> + </tspan><tspan fill="#f79646">1,5</tspan><tspan fill="#000"> + </tspan><tspan fill="#00b050">4</tspan><tspan fill="#f00"> = 10 = </tspan><tspan fill="#000" font-weight="bold">조준두께+회전 </tspan><tspan fill="#e00000" font-weight="bold">En</tspan><tspan fill="#00b050" font-weight="bold">g</tspan><tspan fill="#1fb0ec" font-weight="bold">l</tspan><tspan fill="#e00000" font-weight="bold">ish</tspan></text>
</svg>
</body></html>
